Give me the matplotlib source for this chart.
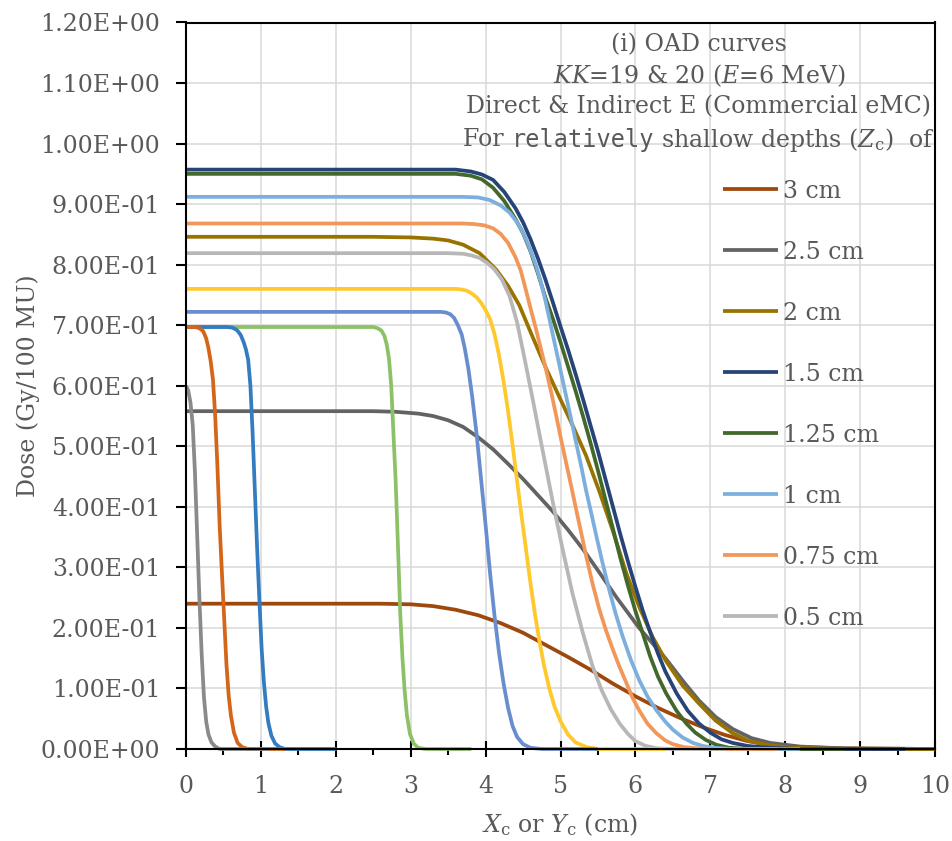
import matplotlib
matplotlib.use("Agg")
import matplotlib.pyplot as plt
from matplotlib.ticker import MultipleLocator, FuncFormatter

plt.rcParams['font.family'] = ['DejaVu Serif']
plt.rcParams['mathtext.fontset'] = 'dejavuserif'

TXT = '#595959'
FS = 17

# ---------------- data ----------------
labels = ['3 cm', '2.5 cm', '2 cm', '1.5 cm', '1.25 cm', '1 cm', '0.75 cm', '0.5 cm',
          '', '', '', '', '', '']
colors = ['#9E480E', '#636363', '#997300', '#264478', '#43682B', '#7CAFDD', '#F1975A',
          '#B7B7B7', '#FFC92E', '#698ED0', '#8CC168', '#347CC1', '#D4661A', '#8A8A8A']

x_3 = [0, 2.6, 3.0, 3.3, 3.6, 3.9, 4.2, 4.5, 4.8, 5.1, 5.4, 5.7, 6.0, 6.3, 6.6, 6.9, 7.2, 7.5,
       7.8, 8.2, 8.8, 10]
y_3 = [0.240, 0.240, 0.239, 0.236, 0.230, 0.221, 0.208, 0.192, 0.172, 0.152, 0.131, 0.108, 0.087,
       0.068, 0.051, 0.036, 0.023, 0.013, 0.007, 0.003, 0.001, 0]

x_25 = [0, 2.5, 2.8, 3.1, 3.3, 3.5, 3.7, 3.9, 4.1, 4.3, 4.5, 4.7, 4.9, 5.1, 5.3, 5.5, 5.75, 6.05,
        6.4, 6.65, 6.85, 7.07, 7.3, 7.55, 7.8, 8.2, 8.8, 10]
y_25 = [0.558, 0.558, 0.557, 0.554, 0.550, 0.543, 0.532, 0.515, 0.495, 0.471, 0.446, 0.419, 0.392,
        0.362, 0.330, 0.295, 0.250, 0.200, 0.150, 0.110, 0.080, 0.053, 0.033, 0.018, 0.010, 0.004,
        0.001, 0]

x_2 = [0, 2.5, 3.0, 3.3, 3.5, 3.7, 3.92, 4.14, 4.3, 4.45, 4.63, 4.81, 4.99, 5.16, 5.34, 5.52, 5.7,
       5.88, 6.05, 6.23, 6.41, 6.63, 6.85, 7.07, 7.3, 7.52, 7.8, 8.1, 8.6, 10]
y_2 = [0.846, 0.846, 0.845, 0.843, 0.840, 0.833, 0.819, 0.792, 0.765, 0.733, 0.680, 0.628, 0.580,
       0.535, 0.485, 0.425, 0.360, 0.290, 0.235, 0.185, 0.145, 0.105, 0.075, 0.047, 0.026, 0.013,
       0.006, 0.002, 0.0005, 0]

x_15 = [0, 3.6, 3.8, 3.95, 4.1, 4.25, 4.4, 4.5, 4.6, 4.7, 4.8, 4.9, 5.0, 5.1, 5.2, 5.3, 5.4, 5.5,
        5.6, 5.7, 5.8, 5.9, 6.0, 6.1, 6.2, 6.3, 6.4, 6.55, 6.7, 6.85, 7.0, 7.15, 7.3, 7.5, 7.8,
        8.2, 9.6]
y_15 = [0.957, 0.957, 0.954, 0.949, 0.940, 0.920, 0.893, 0.870, 0.842, 0.810, 0.775, 0.737, 0.698,
        0.660, 0.620, 0.578, 0.535, 0.492, 0.446, 0.400, 0.354, 0.310, 0.268, 0.228, 0.192, 0.158,
        0.128, 0.092, 0.063, 0.042, 0.027, 0.016, 0.010, 0.005, 0.002, 0, 0]

x_125 = [0, 3.6, 3.8, 3.95, 4.1, 4.25, 4.4, 4.5, 4.6, 4.7, 4.8, 4.9, 5.0, 5.1, 5.2, 5.3, 5.4, 5.5,
         5.6, 5.7, 5.8, 5.9, 6.0, 6.1, 6.2, 6.3, 6.41, 6.55, 6.68, 6.8, 6.94, 7.08, 7.25, 7.5, 8.8]
y_125 = [0.950, 0.950, 0.947, 0.941, 0.927, 0.905, 0.875, 0.852, 0.822, 0.785, 0.745, 0.710, 0.672,
         0.632, 0.592, 0.550, 0.506, 0.460, 0.412, 0.364, 0.315, 0.270, 0.228, 0.190, 0.152, 0.120,
         0.092, 0.063, 0.042, 0.027, 0.015, 0.007, 0.002, 0, 0]

x_1 = [0, 3.7, 3.9, 4.05, 4.2, 4.32, 4.42, 4.5, 4.58, 4.67, 4.74, 4.8, 4.87, 4.94, 5.01, 5.08, 5.15,
       5.21, 5.28, 5.34, 5.41, 5.48, 5.56, 5.65, 5.74, 5.83, 5.94, 6.05, 6.16, 6.28, 6.4, 6.5, 6.63,
       6.77, 6.9, 7.05, 7.3, 8.2]
y_1 = [0.912, 0.912, 0.911, 0.907, 0.898, 0.886, 0.870, 0.853, 0.830, 0.800, 0.770, 0.740, 0.700,
       0.660, 0.620, 0.580, 0.540, 0.505, 0.465, 0.428, 0.390, 0.351, 0.308, 0.263, 0.222, 0.186,
       0.147, 0.114, 0.087, 0.064, 0.045, 0.032, 0.019, 0.010, 0.005, 0.002, 0, 0]

x_075 = [0, 3.7, 3.85, 3.98, 4.1, 4.2, 4.3, 4.4, 4.47, 4.54, 4.6, 4.67, 4.74, 4.81, 4.88, 4.94,
         5.01, 5.08, 5.15, 5.21, 5.28, 5.34, 5.43, 5.52, 5.61, 5.7, 5.79, 5.88, 5.96, 6.05, 6.16,
         6.28, 6.4, 6.5, 6.65, 6.85, 7.0, 7.9]
y_075 = [0.868, 0.868, 0.867, 0.865, 0.860, 0.851, 0.836, 0.812, 0.790, 0.757, 0.728, 0.695, 0.660,
         0.625, 0.587, 0.552, 0.510, 0.470, 0.430, 0.395, 0.355, 0.320, 0.272, 0.230, 0.195, 0.164,
         0.135, 0.109, 0.085, 0.064, 0.042, 0.026, 0.014, 0.008, 0.003, 0.001, 0, 0]

x_05 = [0, 3.5, 3.7, 3.82, 3.92, 4.02, 4.12, 4.22, 4.32, 4.42, 4.52, 4.63, 4.76, 4.9, 5.03, 5.16,
        5.3, 5.43, 5.55, 5.67, 5.79, 5.9, 6.0, 6.14, 6.3, 6.5, 7.2]
y_05 = [0.819, 0.819, 0.818, 0.815, 0.811, 0.803, 0.792, 0.775, 0.748, 0.705, 0.645, 0.577, 0.494,
        0.406, 0.329, 0.257, 0.191, 0.136, 0.097, 0.066, 0.042, 0.025, 0.013, 0.005, 0.001, 0, 0]

x_y = [0, 3.6, 3.68, 3.75, 3.82, 3.88, 3.94, 4.0, 4.06, 4.12, 4.18, 4.24, 4.3, 4.36, 4.42, 4.48,
       4.54, 4.6, 4.66, 4.72, 4.78, 4.85, 4.92, 5.0, 5.1, 5.2, 5.35, 5.5, 6.41]
y_y = [0.760, 0.760, 0.759, 0.757, 0.752, 0.746, 0.737, 0.725, 0.710, 0.685, 0.650, 0.607, 0.558,
       0.502, 0.443, 0.385, 0.329, 0.273, 0.222, 0.177, 0.138, 0.100, 0.070, 0.046, 0.024, 0.011,
       0.003, 0, 0]

x_b = [0, 3.4, 3.47, 3.53, 3.58, 3.63, 3.68, 3.72, 3.77, 3.82, 3.88, 3.94, 4.0, 4.06, 4.12, 4.18,
       4.24, 4.3, 4.36, 4.42, 4.5, 4.6, 4.75, 5.5]
y_b = [0.722, 0.722, 0.721, 0.718, 0.712, 0.700, 0.685, 0.663, 0.628, 0.583, 0.520, 0.445, 0.370,
       0.290, 0.219, 0.158, 0.108, 0.068, 0.038, 0.020, 0.008, 0.002, 0, 0]

x_g = [0, 2.4, 2.5, 2.56, 2.61, 2.65, 2.68, 2.71, 2.74, 2.77, 2.8, 2.83, 2.86, 2.89, 2.92, 2.95,
       2.99, 3.04, 3.1, 3.2, 3.81]
y_g = [0.697, 0.697, 0.697, 0.695, 0.691, 0.682, 0.668, 0.645, 0.600, 0.520, 0.440, 0.335, 0.225,
       0.150, 0.095, 0.055, 0.025, 0.009, 0.002, 0, 0]

x_b2 = [0, 0.55, 0.62, 0.68, 0.73, 0.77, 0.8, 0.83, 0.86, 0.89, 0.92, 0.95, 0.98, 1.01, 1.04, 1.07,
        1.1, 1.14, 1.19, 1.25, 1.32, 2.01]
y_b2 = [0.697, 0.697, 0.696, 0.692, 0.684, 0.672, 0.660, 0.643, 0.600, 0.520, 0.425, 0.330, 0.245,
        0.165, 0.110, 0.070, 0.043, 0.022, 0.009, 0.003, 0, 0]

x_o2 = [0, 0.12, 0.18, 0.23, 0.27, 0.3, 0.33, 0.36, 0.39, 0.42, 0.45, 0.48, 0.51, 0.54, 0.57, 0.6,
        0.64, 0.69, 0.75, 0.83, 1.32]
y_o2 = [0.697, 0.697, 0.695, 0.690, 0.678, 0.662, 0.640, 0.610, 0.550, 0.465, 0.367, 0.290, 0.215,
        0.140, 0.088, 0.055, 0.027, 0.010, 0.003, 0, 0]

x_g2 = [0, 0.03, 0.06, 0.09, 0.12, 0.15, 0.18, 0.21, 0.24, 0.27, 0.3, 0.34, 0.39, 0.45, 1.12]
y_g2 = [0.600, 0.592, 0.572, 0.535, 0.455, 0.350, 0.245, 0.155, 0.085, 0.045, 0.024, 0.011, 0.004,
        0, 0]

xs = [x_3, x_25, x_2, x_15, x_125, x_1, x_075, x_05, x_y, x_b, x_g, x_b2, x_o2, x_g2]
ys = [y_3, y_25, y_2, y_15, y_125, y_1, y_075, y_05, y_y, y_b, y_g, y_b2, y_o2, y_g2]

xticks = list(range(0, 11))
yticks = [i / 10 for i in range(0, 13)]

title_lines = ['(i) OAD curves', r'$KK$=19 & 20 ($E$=6 MeV)', 'Direct & Indirect E (Commercial eMC)']

# ---------------- figure ----------------
W, H = 952, 841
fig = plt.figure(figsize=(W / 100, H / 100), dpi=100)
ax = fig.add_axes([186 / W, 1 - 749 / H, (935 - 186) / W, (749 - 22.5) / H])

handles = []
for i, (x, y) in enumerate(zip(xs, ys)):
    ln, = ax.plot(x, y, color=colors[i], lw=2.7, solid_joinstyle='round',
                  solid_capstyle='butt', zorder=3 + i, label=labels[i], clip_on=False)
    handles.append(ln)

ax.set_xlim(0, 10)
ax.set_ylim(0, 1.2)
ax.set_xticks(xticks)
ax.set_yticks(yticks)
ax.xaxis.set_minor_locator(MultipleLocator(0.5))
ax.yaxis.set_major_formatter(FuncFormatter(lambda v, p: f'{v:.2E}'))
ax.grid(True, which='major', color='#D9D9D9', lw=1.1, zorder=0)
ax.set_axisbelow(True)
for s in ax.spines.values():
    s.set_color('black')
    s.set_linewidth(1.5)
    s.set_zorder(30)
ax.tick_params(axis='x', which='major', direction='inout', length=11, width=1.5,
               labelsize=FS, labelcolor=TXT, pad=13)
ax.tick_params(axis='x', which='minor', direction='out', length=4.5, width=1.5)
ax.tick_params(axis='y', which='major', direction='out', length=7, width=1.5,
               labelsize=FS, labelcolor=TXT, pad=11.5)

ax.set_xlabel(r'$X_\mathrm{c}$ or $Y_\mathrm{c}$ (cm)', fontsize=FS, color=TXT, labelpad=10)
ax.set_ylabel('Dose (Gy/100 MU)', fontsize=FS, color=TXT, labelpad=0)

leg = fig.legend(handles=handles[:8], labels=labels[:8], loc='upper left',
                 bbox_to_anchor=(723 / W, 1 - 179.5 / H), frameon=False, fontsize=FS,
                 handlelength=2.33, handletextpad=0.2, labelspacing=1.61,
                 borderpad=0, borderaxespad=0)
for t in leg.get_texts():
    t.set_color(TXT)
leg.set_zorder(40)

# title block
xc = 699
ty = [45, 76, 107]
for s, yy in zip(title_lines, ty):
    fig.text(xc / W, 1 - yy / H, s, ha='center', va='center', fontsize=FS, color=TXT, zorder=40)

renderer = fig.canvas.get_renderer()
pieces = [('For ', {}), ('relatively', {'family': 'DejaVu Sans Mono'}),
          (r' shallow depths ($Z_\mathrm{c}$)  of', {})]
texts = [fig.text(0, 1 - 140 / H, s, ha='left', va='center', fontsize=FS, color=TXT, **kw)
         for s, kw in pieces]
widths = [t.get_window_extent(renderer).width for t in texts]
xl = xc - sum(widths) / 2
for t, w in zip(texts, widths):
    t.set_x(xl / W)
    xl += w

fig.savefig('out.png', dpi=100)
